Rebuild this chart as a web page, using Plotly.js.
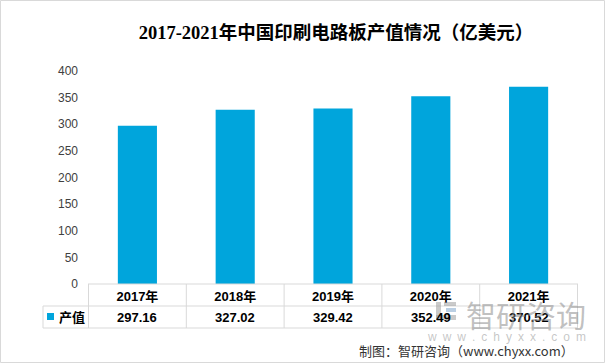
<!DOCTYPE html>
<html>
<head>
<meta charset="utf-8">
<script src="https://cdn.plot.ly/plotly-3.0.1.min.js"></script>
<style>html,body{margin:0;padding:0;background:#fff;}#chart{width:605px;height:363px;}</style>
</head>
<body>
<div id="chart"></div>
<script>
const categories = ['2017年', '2018年', '2019年', '2020年', '2021年'];
const values = [297.16, 327.02, 329.42, 352.49, 370.52];
const valueLabels = ['297.16', '327.02', '329.42', '352.49', '370.52'];
const seriesName = '产值';
const yTicks = [0, 50, 100, 150, 200, 250, 300, 350, 400];

const W = 605, H = 363;
const L = 88, R = 578, T = 71, B = 284;
const px = x => (x - L) / (R - L);
const py = y => (B - y) / (B - T);

const barColor = '#00a5dc';
const lineColor = '#d9d9d9';
const fontCJK = '"Liberation Sans", Arial, "Noto Sans CJK SC", sans-serif';

const shapes = [];
const annotations = [];

// outer frame
shapes.push({type:'rect', xref:'paper', yref:'paper', x0:px(0.5), x1:px(W-0.5), y0:py(0.5), y1:py(H-0.5), line:{color:lineColor, width:1}});

// table grid
const rowTop = 284, rowMid = 306, rowBot = 328, keyLeft = 43;
shapes.push({type:'line', xref:'paper', yref:'paper', x0:px(L), x1:px(R), y0:py(rowTop), y1:py(rowTop), line:{color:lineColor, width:1}});
shapes.push({type:'line', xref:'paper', yref:'paper', x0:px(keyLeft), x1:px(R), y0:py(rowMid), y1:py(rowMid), line:{color:lineColor, width:1}});
shapes.push({type:'line', xref:'paper', yref:'paper', x0:px(keyLeft), x1:px(R), y0:py(rowBot), y1:py(rowBot), line:{color:lineColor, width:1}});
shapes.push({type:'line', xref:'paper', yref:'paper', x0:px(keyLeft), x1:px(keyLeft), y0:py(rowMid), y1:py(rowBot), line:{color:lineColor, width:1}});
for (let i = 0; i <= categories.length; i++) {
  shapes.push({type:'line', xref:'x', yref:'paper', x0:i-0.5, x1:i-0.5, y0:py(rowTop), y1:py(rowBot), line:{color:lineColor, width:1}});
}
// legend key
shapes.push({type:'rect', xref:'paper', yref:'paper', x0:px(47), x1:px(54), y0:py(313), y1:py(320), fillcolor:barColor, line:{width:0}});
annotations.push({xref:'paper', yref:'paper', x:px(57), y:py(317), xanchor:'left', yanchor:'middle', text:'<b>'+seriesName+'</b>', showarrow:false, font:{family:fontCJK, size:13, color:'#000'}});

// values row
categories.forEach((c, i) => {
  annotations.push({xref:'x', yref:'paper', x:c, y:py(317), xanchor:'center', yanchor:'middle', text:'<b>'+valueLabels[i]+'</b>', showarrow:false, font:{family:fontCJK, size:13, color:'#000'}});
});

// watermark logo (approximate)
const wm = 'rgba(150,150,150,0.5)';
shapes.push({type:'rect', xref:'paper', yref:'paper', x0:px(436), x1:px(441), y0:py(302), y1:py(320), fillcolor:wm, line:{width:0}});
shapes.push({type:'rect', xref:'paper', yref:'paper', x0:px(436), x1:px(456), y0:py(315), y1:py(320), fillcolor:wm, line:{width:0}});
shapes.push({type:'rect', xref:'paper', yref:'paper', x0:px(444), x1:px(456), y0:py(302), y1:py(306), fillcolor:wm, line:{width:0}});
shapes.push({type:'rect', xref:'paper', yref:'paper', x0:px(446), x1:px(456), y0:py(308), y1:py(312), fillcolor:'rgba(120,160,200,0.5)', line:{width:0}});
annotations.push({xref:'paper', yref:'paper', x:px(588), y:py(314), xanchor:'right', yanchor:'middle', text:'智研咨询', showarrow:false, font:{family:'"Noto Sans CJK SC", sans-serif', size:30, color:'rgba(140,140,140,0.55)'}});
annotations.push({xref:'paper', yref:'paper', x:px(588), y:py(337), xanchor:'right', yanchor:'middle', text:'w\u2002w\u2002w\u2002.\u2002c\u2002h\u2002y\u2002x\u2002x\u2002.\u2002c\u2002o\u2002m', showarrow:false, font:{family:'"Liberation Sans", Arial, sans-serif', size:12, color:'rgba(150,150,150,0.55)'}});

// footer
annotations.push({xref:'paper', yref:'paper', x:px(576), y:py(350), xanchor:'right', yanchor:'middle', text:'制图：智研咨询（www.chyxx.com）', showarrow:false, font:{family:'"Noto Sans CJK SC", sans-serif', size:13, color:'#333'}});

const data = [{
  type:'bar', x:categories, y:values, name:seriesName,
  marker:{color:barColor}, width:0.4, hoverinfo:'skip'
}];

const layout = {
  width:W, height:H,
  margin:{l:L, r:W-R, t:T, b:H-B, pad:0},
  paper_bgcolor:'#fff', plot_bgcolor:'#fff',
  showlegend:false,
  title:{text:'<b>2017-2021年中国印刷电路板产值情况（亿美元）</b>', xref:'container', yref:'container', x:336/W, y:1-33/H, xanchor:'center', yanchor:'middle', font:{family:'"Liberation Serif", "Noto Sans CJK SC", serif', size:18.5, color:'#000'}},
  xaxis:{type:'category', showgrid:false, zeroline:false, showline:false, ticks:'', ticklabelstandoff:3,
    tickfont:{family:fontCJK, size:13, color:'#000'}, tickprefix:'<b>', ticksuffix:'</b>', fixedrange:true},
  yaxis:{range:[0,400], tickvals:yTicks, ticktext:yTicks.map(String), showgrid:false, zeroline:false, showline:false, ticks:'', ticklabelstandoff:9,
    tickfont:{family:'"Liberation Sans", Arial, sans-serif', size:12, color:'#404040'}, fixedrange:true},
  shapes:shapes, annotations:annotations
};

Plotly.newPlot('chart', data, layout, {displayModeBar:false, staticPlot:true});
</script>
</body>
</html>
